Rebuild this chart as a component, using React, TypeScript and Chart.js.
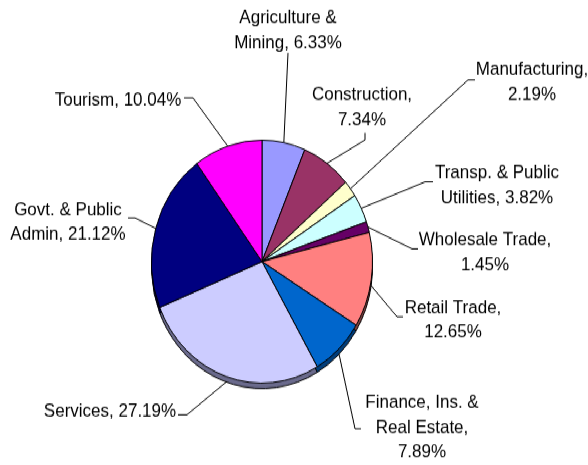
import React, { useEffect, useRef } from "react";
import { Chart, registerables } from "chart.js";

Chart.register(...registerables);

const categories = [
  "Agriculture & Mining",
  "Construction",
  "Manufacturing",
  "Transp. & Public Utilities",
  "Wholesale Trade",
  "Retail Trade",
  "Finance, Ins. & Real Estate",
  "Services",
  "Govt. & Public Admin",
  "Tourism",
];
const values = [6.33, 7.34, 2.19, 3.82, 1.45, 12.65, 7.89, 27.19, 21.12, 10.04];
const colors = [
  "#9999FF", "#993366", "#FFFFCC", "#CCFFFF", "#660066",
  "#FF8080", "#0066CC", "#CCCCFF", "#000080", "#FF00FF",
];
const sideColors = [
  "#4d4d80", "#4d1a33", "#808066", "#668080", "#330033",
  "#804040", "#003d7a", "#6a6a8c", "#000040", "#800080",
];

// layout (unscaled canvas coordinates)
const labelWrap = [120, 110, 130, 130, 140, 110, 120, 200, 120, 200];
const labelPos = [
  [288, 16.4], [362, 86.4], [532, 63.6], [497, 157.3], [485, 218.2],
  [453, 280], [422, 366.4], [110, 374.5], [68, 190.9], [118, 91.8],
];
const leaderPts = [
  [288, 48.2, 288, 48.2], [365, 120.9, 365, 127.3], [475, 72.7, 468, 72.7],
  [433, 165.5, 425, 165.5], [418, 226.4, 412, 226.4], [403, 288.2, 397, 288.2],
  [361, 390, 355, 390], [178, 377.3, 187, 377.3], [128, 198.2, 135, 198.2],
  [184, 89.1, 193, 89.1],
];
const DEPTH = 5;
const LINE_H = 22.7;
const FONT = "17px 'Liberation Sans', Arial, sans-serif";

function wrap(ctx: CanvasRenderingContext2D, text: string, maxW: number) {
  const words = text.split(" ");
  const lines: string[] = [];
  let cur = "";
  for (const w of words) {
    const t = cur ? cur + " " + w : w;
    if (cur && ctx.measureText(t).width > maxW) {
      lines.push(cur);
      cur = w;
    } else cur = t;
  }
  if (cur) lines.push(cur);
  return lines;
}

const depthPlugin = {
  id: "depth",
  beforeDatasetsDraw(chart: any) {
    const ctx = chart.ctx;
    const meta = chart.getDatasetMeta(0);
    ctx.save();
    meta.data.forEach((el: any, i: number) => {
      const { x, y, startAngle, endAngle, outerRadius } = el;
      ctx.beginPath();
      ctx.moveTo(x, y + DEPTH);
      ctx.arc(x, y + DEPTH, outerRadius, startAngle, endAngle);
      ctx.closePath();
      ctx.fillStyle = sideColors[i];
      ctx.fill();
      ctx.lineWidth = 1;
      ctx.strokeStyle = "#000";
      ctx.stroke();
    });
    ctx.restore();
  },
};

const labelPlugin = {
  id: "pieLabels",
  afterDatasetsDraw(chart: any) {
    const ctx = chart.ctx;
    const meta = chart.getDatasetMeta(0);
    ctx.save();
    ctx.font = FONT;
    ctx.fillStyle = "#000";
    ctx.strokeStyle = "#000";
    ctx.lineWidth = 1;
    ctx.textAlign = "center";
    ctx.textBaseline = "middle";
    meta.data.forEach((el: any, i: number) => {
      const { x, y, startAngle, endAngle, outerRadius } = el;
      const mid = (startAngle + endAngle) / 2;
      const px = x + outerRadius * Math.cos(mid);
      let py = y + outerRadius * Math.sin(mid);
      if (Math.sin(mid) > 0) py += DEPTH;
      const [x1, y1, x2, y2] = leaderPts[i];
      ctx.beginPath();
      ctx.moveTo(x1, y1);
      ctx.lineTo(x2, y2);
      ctx.lineTo(px, py);
      ctx.stroke();
      const text = `${categories[i]}, ${values[i].toFixed(2)}%`;
      const lines = wrap(ctx, text, labelWrap[i]);
      const [lx, ly] = labelPos[i];
      lines.forEach((ln, k) => ctx.fillText(ln, lx, ly + k * LINE_H));
    });
    ctx.restore();
  },
};

export default function App() {
  const ref = useRef<HTMLCanvasElement | null>(null);
  useEffect(() => {
    if (!ref.current) return;
    const chart = new Chart(ref.current, {
      type: "pie",
      data: {
        labels: categories,
        datasets: [
          {
            data: values,
            backgroundColor: colors,
            borderColor: "#000",
            borderWidth: 1,
            hoverOffset: 0,
          },
        ],
      },
      options: {
        responsive: false,
        animation: false,
        layout: { padding: { left: 151, right: 215, top: 127, bottom: 74 } },
        plugins: {
          legend: { display: false },
          tooltip: { enabled: false },
          title: { display: false },
        },
      },
      plugins: [depthPlugin, labelPlugin],
    });
    return () => chart.destroy();
  }, []);
  return (
    <div
      style={{
        position: "absolute",
        left: 0,
        top: 0,
        width: 588,
        height: 423,
        transform: "scaleY(1.0993)",
        transformOrigin: "0 0",
        background: "#fff",
      }}
    >
      <canvas ref={ref} width={588} height={423} />
    </div>
  );
}
